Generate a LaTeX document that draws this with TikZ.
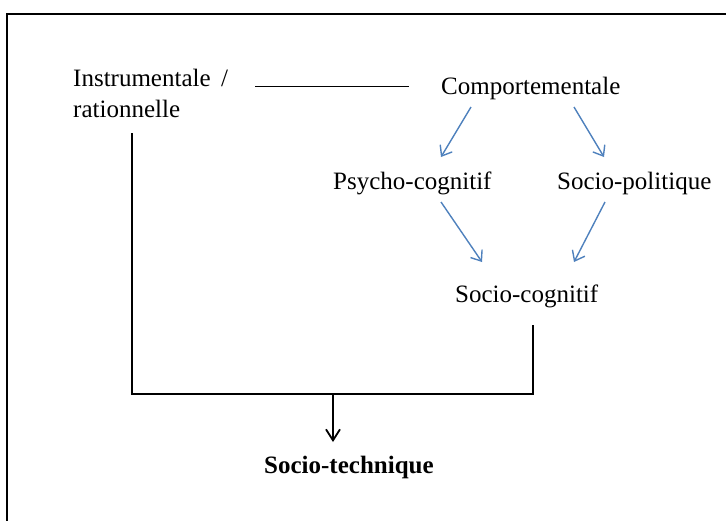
\documentclass[tikz,border=0pt]{standalone}
\usepackage{fontspec}
\setmainfont{Liberation Serif}
\usetikzlibrary{arrows.meta}
\definecolor{arrowblue}{RGB}{79,129,189}
\begin{document}
\begin{tikzpicture}[x=1pt,y=-1pt,
  lbl/.style={inner sep=0pt, font=\fontsize{25}{31}\selectfont},
  blkline/.style={line width=1.9pt},
  bluearrow/.style={draw=arrowblue, line width=1.4pt, -{Straight Barb[length=9pt,width=14pt]}},
  blkarrow/.style={line width=1.8pt, -{Straight Barb[length=11pt,width=14pt]}},
]
\clip (0,0) rectangle (726,520);
\draw[line width=1.8pt] (7,14) rectangle (760,560);
\node[lbl, anchor=base west, align=left] (instr) at (73,117) {Instrumentale\hspace{0.42em}/\\rationnelle};
\node[lbl, anchor=base west] (comp) at (441,94) {Comportementale};
\node[lbl, anchor=base west] (psycho) at (333,189) {Psycho-cognitif};
\node[lbl, anchor=base west] (sopol) at (557,189) {Socio-politique};
\node[lbl, anchor=base west] (socog) at (455,302) {Socio-cognitif};
\node[lbl, anchor=base west, font=\fontsize{25}{31}\selectfont\bfseries] (sotech) at (264,473) {Socio-technique};
% named connector ends
\coordinate (h1) at (255,86.5);
\coordinate (h2) at (409,86.5);
\coordinate (c1) at (471,107);
\coordinate (p1) at (441,157);
\coordinate (c2) at (574,107);
\coordinate (s1) at (604,157);
\coordinate (p2) at (441,202);
\coordinate (g1) at (482,262);
\coordinate (s2) at (605,202);
\coordinate (g2) at (574,262);
\coordinate (i1) at (132,133);
\coordinate (j1) at (132,394);
\coordinate (j2) at (533,394);
\coordinate (g3) at (533,325);
\coordinate (m1) at (333,394);
\coordinate (t1) at (333,442);
\draw[blkline] (h1) -- (h2);
\draw[bluearrow] (c1) -- (p1);
\draw[bluearrow] (c2) -- (s1);
\draw[bluearrow] (p2) -- (g1);
\draw[bluearrow] (s2) -- (g2);
\draw[blkline] (i1) -- (j1) -- (j2) -- (g3);
\draw[blkarrow] (m1) -- (t1);
\end{tikzpicture}
\end{document}
